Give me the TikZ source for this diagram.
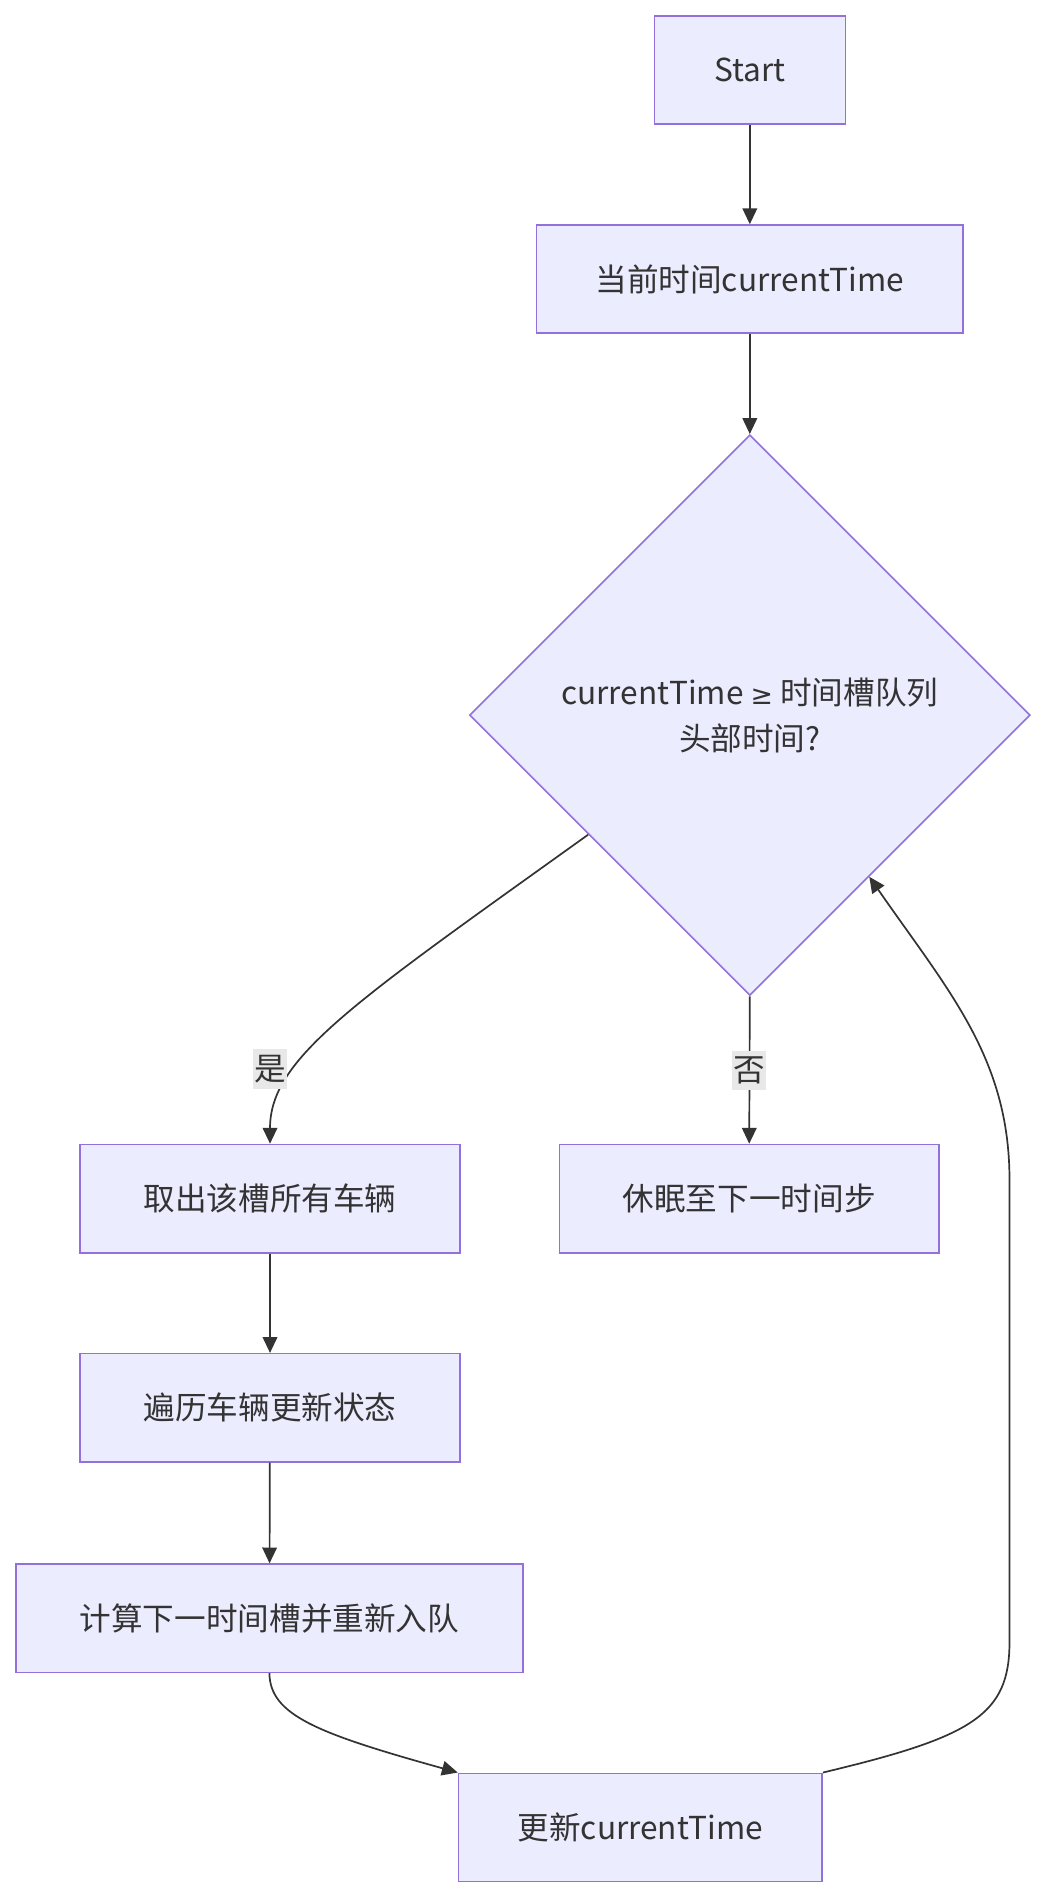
\documentclass[tikz,border=0pt]{standalone}
\usepackage{fontspec}
\setmainfont{Noto Sans CJK SC}
\newfontfamily\geqfont{DejaVu Sans}
\usetikzlibrary{calc,shapes.geometric,arrows.meta}
\definecolor{boxfill}{HTML}{ECECFF}
\definecolor{boxline}{HTML}{9370DB}
\definecolor{ink}{HTML}{333333}
\definecolor{lblbg}{HTML}{E8E8E8}

\begin{document}
\begin{tikzpicture}[x=1pt,y=-1pt,
  box/.style={draw=boxline,fill=boxfill,line width=1.3pt,rectangle,minimum height=89pt,text=ink,font=\fontsize{26}{38}\selectfont},
  flow/.style={-{Triangle[length=13pt,width=12pt]},draw=ink,line width=1.4pt},
  lbl/.style={fill=lblbg,text=ink,inner xsep=1pt,inner ysep=5pt,font=\fontsize{26}{30}\selectfont}]
\useasboundingbox (0,0) rectangle (860,1555.6);

\draw node [box,minimum width=157pt](start) at (616.5,57.5){Start};
\draw node [box,minimum width=351pt](now) at (616.5,229.5){当前时间currentTime};
\draw node [box,diamond,minimum width=461pt,minimum height=461pt,inner sep=0pt,align=center](check) at (616.5,588){currentTime {\geqfont\fontsize{22}{38}\selectfont ≥} 时间槽队列\\头部时间?};
\draw node [box,minimum width=312pt](take) at (222,985.5){取出该槽所有车辆};
\draw node [box,minimum width=312pt](sleep) at (616,985.5){休眠至下一时间步};
\draw node [box,minimum width=312pt](walk) at (222,1157.5){遍历车辆更新状态};
\draw node [box,minimum width=417pt](requeue) at (221.5,1330.5){计算下一时间槽并重新入队};
\draw node [box,minimum width=299pt](update) at (526.5,1502.5){更新currentTime};

\coordinate (yesout) at ($ (check.west)!0.425!(check.south) $);
\coordinate (backin) at ($ (check.south)!0.425!(check.east) $);

\draw[flow] (start) -- (now);
\draw[flow] (now) -- (check.north);
\draw[flow] (yesout) .. controls (290,825) and (222,870) .. (take.north);
\draw[flow] (check.south) -- (sleep.north);
\draw[flow] (take) -- (walk);
\draw[flow] (walk) -- (requeue);
\draw[flow] (requeue.south) .. controls (222,1410) and (260,1425) .. (update.north west);
\draw[flow] (update.north east) .. controls (800,1428) and (830,1410) .. (830,1350) -- (830,970) .. controls (830,870) and (780,815) .. (backin);

\draw node [lbl](yes) at (222,879){是};
\draw node [lbl](no) at (616,880){否};

\end{tikzpicture}
\end{document}
